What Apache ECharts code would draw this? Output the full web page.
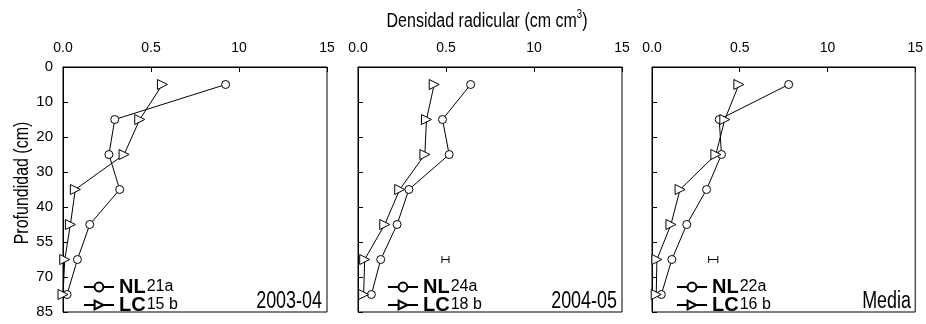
<!DOCTYPE html>
<html><head><meta charset="utf-8">
<script src="https://cdn.jsdelivr.net/npm/echarts@6/dist/echarts.min.js"></script>
<style>html,body{margin:0;padding:0;background:#fff}#c{width:926px;height:324px}</style>
</head><body><div id="c"></div>
<script>
// ---- data ----
const depths = [5, 15, 25, 35, 45, 55, 65];
const yTickLabels = ['0', '10', '20', '30', '40', '55', '70', '85'];
const xTickLabels = ['0.0', '0.5', '10', '15'];
const panelLabels = ['2003-04', '2004-05', 'Media'];
const nl2003 = [0.924, 0.294, 0.261, 0.322, 0.152, 0.082, 0.023];
const lc2003 = [0.565, 0.436, 0.347, 0.070, 0.042, 0.010, 0.000];
const nl2004 = [0.640, 0.480, 0.518, 0.289, 0.222, 0.129, 0.076];
const lc2004 = [0.433, 0.389, 0.380, 0.237, 0.152, 0.038, 0.032];
const nlMedia = [0.779, 0.383, 0.396, 0.311, 0.198, 0.113, 0.053];
const lcMedia = [0.495, 0.415, 0.364, 0.160, 0.108, 0.028, 0.024];
const nlStats = ['21a', '24a', '22a'];
const lcStats = ['15 b', '18 b', '16 b'];
const errCenter = [null, 0.497, 0.349];
const errHalf = [null, 0.020, 0.026];
const errDepth = 55;

const nlSets = [nl2003, nl2004, nlMedia];
const lcSets = [lc2003, lc2004, lcMedia];

const REG = '"Liberation Sans", Arial, sans-serif';

const gridLefts = [63, 358, 652];
const legendLefts = [83, 387, 676];
const grids = [], xAxes = [], yAxes = [], series = [], legends = [], graphics = [];

gridLefts.forEach((gl, k) => {
  grids.push({left: gl, top: 67, width: 264, height: 245, show: true, borderColor: '#000', borderWidth: 1, backgroundColor: 'transparent'});
  xAxes.push({
    type: 'value', gridIndex: k, position: 'top', min: 0, max: 1.5, interval: 0.5,
    axisLine: {show: true, lineStyle: {color: '#000', width: 1}},
    axisTick: {show: true, inside: true, length: 5, lineStyle: {color: '#000'}},
    axisLabel: {show: true, margin: 12, color: '#000', fontSize: 14, fontFamily: REG,
      formatter: v => xTickLabels[Math.round(v / 0.5)]},
    splitLine: {show: false}
  });
  yAxes.push({
    type: 'value', gridIndex: k, inverse: true, min: 0, max: 70, interval: 10,
    axisLine: {show: true, lineStyle: {color: '#000', width: 1}},
    axisTick: {show: true, inside: true, length: 5, lineStyle: {color: '#000'}},
    axisLabel: {show: k === 0, margin: 10, color: '#000', fontSize: 15, fontFamily: REG,
      formatter: v => yTickLabels[Math.round(v / 10)]},
    splitLine: {show: false}
  });
  series.push({
    name: 'NL', type: 'line', xAxisIndex: k, yAxisIndex: k,
    data: depths.map((d, i) => [nlSets[k][i], d]),
    symbol: 'circle', symbolSize: 8, showSymbol: true,
    itemStyle: {color: '#fff', borderColor: '#000', borderWidth: 1},
    lineStyle: {color: '#000', width: 1}, emphasis: {disabled: true}, z: 3
  });
  series.push({
    name: 'LC', type: 'line', xAxisIndex: k, yAxisIndex: k,
    data: depths.map((d, i) => [lcSets[k][i], d]),
    symbol: 'triangle', symbolRotate: -90, symbolSize: 10, showSymbol: true,
    itemStyle: {color: '#fff', borderColor: '#000', borderWidth: 1},
    lineStyle: {color: '#000', width: 1}, emphasis: {disabled: true}, z: 3
  });
  if (errCenter[k] != null) {
    series.push({
      type: 'custom', xAxisIndex: k, yAxisIndex: k, silent: true,
      data: [[errCenter[k], errDepth, errHalf[k]]],
      encode: {x: 0, y: 1},
      renderItem: (params, api) => {
        const c = api.value(0), d = api.value(1), h = api.value(2);
        const l = api.coord([c - h, d]), r = api.coord([c + h, d]);
        const cap = 3.5;
        const st = {stroke: '#000', lineWidth: 1};
        return {type: 'group', children: [
          {type: 'line', shape: {x1: l[0], y1: l[1], x2: r[0], y2: r[1]}, style: st},
          {type: 'line', shape: {x1: l[0], y1: l[1] - cap, x2: l[0], y2: l[1] + cap}, style: st},
          {type: 'line', shape: {x1: r[0], y1: r[1] - cap, x2: r[0], y2: r[1] + cap}, style: st}
        ]};
      }
    });
  }
  legends.push({
    data: ['NL', 'LC'], orient: 'vertical', left: legendLefts[k], top: 277,
    itemWidth: 30, itemHeight: 11, itemGap: -2, selectedMode: false,
    padding: 0,
    formatter: name => name === 'NL' ? '{a|NL}{b|' + nlStats[k] + '}' : '{a|LC}{b|' + lcStats[k] + '}',
    textStyle: {color: '#000', rich: {
      a: {fontSize: 20, fontWeight: 'bold', fontFamily: REG, color: '#000', lineHeight: 16, verticalAlign: 'middle'},
      b: {fontSize: 16, fontFamily: REG, color: '#000', lineHeight: 16, verticalAlign: 'middle', padding: [0, 0, 0, 1]}
    }}
  });
  graphics.push({
    type: 'text', x: gl + 264 - 5, y: 313, scaleX: 0.78,
    style: {text: panelLabels[k], font: '23px ' + REG, fill: '#000', align: 'right', verticalAlign: 'bottom'}
  });
});

graphics.push({
  type: 'text', x: 487, y: 9, scaleX: 0.8,
  style: {
    text: '{a|Densidad radicular (cm cm}{b|3}{a|)}',
    align: 'center',
    rich: {
      a: {fontSize: 20, fontFamily: REG, color: '#000', lineHeight: 22, verticalAlign: 'bottom'},
      b: {fontSize: 12, fontFamily: REG, color: '#000', lineHeight: 22, verticalAlign: 'top'}
    }
  }
});

graphics.push({
  type: 'text', x: 22, y: 183, rotation: Math.PI / 2, scaleX: 0.8,
  style: {text: 'Profundidad (cm)', font: '20px ' + REG, fill: '#000', align: 'center', verticalAlign: 'middle'}
});

const chart = echarts.init(document.getElementById('c'), null, {renderer: 'canvas'});
chart.setOption({
  animation: false,
  backgroundColor: '#fff',
  grid: grids, xAxis: xAxes, yAxis: yAxes, series: series, legend: legends,
  graphic: graphics
});
</script></body></html>
